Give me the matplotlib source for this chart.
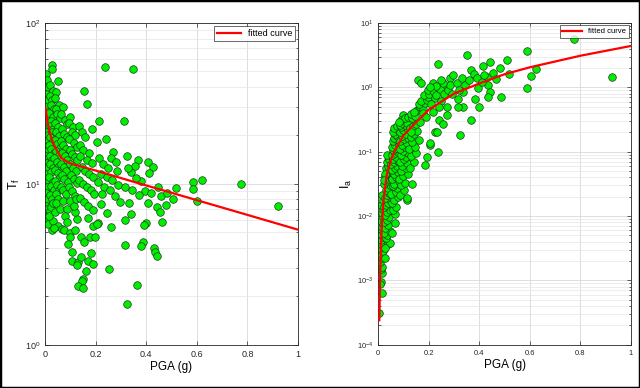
import matplotlib
matplotlib.use("Agg")
import matplotlib.pyplot as plt
from matplotlib.patches import Rectangle
from matplotlib.ticker import LogLocator, NullFormatter, FixedLocator

plt.rcParams['font.family'] = ['Liberation Sans', 'DejaVu Sans']
plt.rcParams['mathtext.fontset'] = 'custom'
plt.rcParams['mathtext.rm'] = 'Liberation Sans'
plt.rcParams['mathtext.it'] = 'Liberation Sans'

# ---------------- Left panel data: T_f vs PGA ----------------
left_pts = [
    (0.004,48),(0.009,44),(0.006,40),(0.003,36),(0.008,33),(0.004,30),(0.01,28),(0.005,26),(0.003,24),
    (0.008,22.5),(0.004,21),(0.01,20),(0.006,18.5),(0.003,17),(0.009,16),(0.005,15),(0.003,13.5),
    (0.008,12.5),(0.004,11.5),(0.01,10.5),(0.006,9.6),(0.003,8.8),(0.009,8.0),(0.005,7.3),(0.007,6.97),
    (0.004,6.2),(0.01,5.6),
    (0.026,54.8),(0.027,52),(0.02,41),(0.032,38),(0.018,35),(0.028,33),(0.022,31),(0.034,29),(0.017,27.5),
    (0.03,26),(0.024,24.5),(0.019,23),(0.033,22),(0.027,21),(0.021,19.5),(0.031,18.5),(0.016,17.5),
    (0.025,16.5),(0.035,15.5),(0.02,14.8),(0.029,14),(0.018,13.2),(0.033,12.5),(0.024,11.8),(0.016,11),
    (0.03,10.3),(0.022,9.7),(0.034,9.1),(0.019,8.5),(0.028,8),(0.02,6.81),(0.026,5.19),(0.033,5.9),
    (0.024,7.2),(0.031,7.6),(0.017,6.3),
    (0.05,43.6),(0.045,37),(0.038,34),(0.055,31),(0.042,29),(0.048,27),(0.058,25.5),(0.04,24),(0.052,22.5),
    (0.044,21),(0.057,19.8),(0.039,18.8),(0.049,17.7),(0.06,16.8),(0.043,16),(0.054,15.2),(0.037,14.4),
    (0.047,13.6),(0.056,12.9),(0.041,12.2),(0.05,11.6),(0.059,11),(0.038,10.4),(0.046,9.8),(0.055,9.2),
    (0.042,8.6),(0.051,8.1),(0.04,6.65),(0.053,5.5),(0.058,7.0),(0.045,7.6),(0.036,5.3),
    (0.07,30),(0.065,27),(0.078,25),(0.085,23.5),(0.068,22),(0.075,20.5),(0.088,19.5),(0.062,18.5),
    (0.072,17.5),(0.082,16.5),(0.066,15.6),(0.079,14.8),(0.087,14),(0.063,13.3),(0.074,12.7),(0.084,12),
    (0.069,11.3),(0.077,10.7),(0.089,10.2),(0.064,9.6),(0.073,9.1),(0.083,8.6),(0.066,5.25),(0.075,5.2),
    (0.087,7.0),(0.07,7.8),(0.08,6.3),(0.086,5.8),
    (0.1,26),(0.095,24),(0.11,22.5),(0.105,21),(0.12,20),(0.093,19),(0.115,18),(0.125,17),(0.1,16.2),
    (0.108,15.4),(0.118,14.7),(0.128,14),(0.097,13.3),(0.112,12.6),(0.122,12),(0.103,11.3),(0.116,10.7),
    (0.127,10.1),(0.094,9.5),(0.107,9),(0.119,8.4),(0.099,4.92),(0.099,4.7),(0.118,5.2),(0.125,6.04),
    (0.118,6.7),(0.099,7.8),(0.092,4.23),(0.105,3.75),(0.105,3.33),(0.129,3.25),(0.128,3.15),(0.113,7.3),
    (0.124,8.0),
    (0.155,37.9),(0.167,31.5),(0.135,23),(0.145,21),(0.16,19.5),(0.14,17.5),(0.15,16.2),(0.175,15.5),
    (0.138,14.8),(0.165,14),(0.185,13.5),(0.145,12.8),(0.158,12.1),(0.172,11.5),(0.19,11),(0.135,10.6),
    (0.15,10),(0.165,9.5),(0.18,9.2),(0.195,8.7),(0.14,8.2),(0.155,7.7),(0.17,7.3),(0.188,6.9),(0.142,4.7),
    (0.155,4.37),(0.168,6.13),(0.142,3.49),(0.181,3.7),(0.171,3.33),(0.191,3.18),(0.162,2.88),(0.149,2.56),
    (0.145,2.48),(0.132,2.31),(0.151,2.24),(0.178,4.7),(0.19,5.47),(0.198,4.65),(0.187,21.9),
    (0.237,53),(0.212,24.5),(0.241,19.1),(0.204,18.3),(0.27,15.8),(0.215,14.5),(0.23,13.2),(0.25,12.5),
    (0.26,14.5),(0.28,13.6),(0.22,11.5),(0.245,11),(0.265,10.5),(0.21,10.2),(0.235,9.6),(0.255,9.2),
    (0.29,9.8),(0.225,8.6),(0.275,8.4),(0.296,7.68),(0.211,5.69),(0.205,5.6),(0.26,5.42),(0.244,6.56),
    (0.252,2.96),(0.22,7.5),(0.285,12),
    (0.349,51.5),(0.311,24.6),(0.323,14.9),(0.369,14.1),(0.406,13.6),(0.428,12.8),(0.412,11.6),(0.378,10.4),
    (0.34,11.8),(0.355,13),(0.33,12.5),(0.36,10.8),(0.318,9.5),(0.345,9.2),(0.331,7.57),(0.338,6.49),
    (0.316,5.96),(0.318,4.17),(0.364,2.35),(0.323,1.79),(0.408,7.57),(0.441,7.15),(0.455,6.65),(0.464,5.77),
    (0.478,7.4),(0.398,5.69),(0.393,5.55),(0.389,4.33),(0.378,4.13),(0.432,3.97),(0.436,3.75),(0.441,3.58),
    (0.395,9.0),(0.42,8.8),(0.445,9.5),(0.46,8.4),(0.37,8.5),
    (0.518,9.4),(0.586,10.2),(0.586,9.3),(0.619,10.6),(0.505,8.06),(0.602,7.86),(0.775,10.0),(0.922,7.28),
    (0.483,8.8),
]
left_pga = [p[0] for p in left_pts]
left_tf = [p[1] for p in left_pts]

left_fit_pga = [0.002, 0.01, 0.02, 0.03, 0.046, 0.066, 0.1, 0.2, 0.35, 0.5, 0.75, 1.0]
left_fit_tf = [29.6, 24.0, 20.6, 18.2, 16.2, 14.4, 13.4, 12.1, 10.3, 8.8, 6.76, 5.19]

# ---------------- Right panel data: I_a vs PGA ----------------
right_pts = [
    (0.004,3.1e-4),(0.015,6.3e-4),(0.011,9.4e-4),(0.007,8.9e-4),(0.013,1.3e-3),(0.009,1.5e-3),(0.013,1.6e-3),
    (0.006,1.95e-3),(0.016,2.2e-3),(0.01,2.6e-3),(0.018,2.9e-3),(0.008,3.2e-3),(0.014,3.6e-3),(0.012,4.2e-3),
    (0.019,4.8e-3),(0.01,5.3e-3),(0.016,6.0e-3),(0.013,6.8e-3),(0.02,7.5e-3),(0.011,8.5e-3),(0.018,9.5e-3),
    (0.015,0.011),(0.02,0.013),(0.012,0.015),(0.017,0.018),(0.014,0.021),
    (0.026,2.2e-3),(0.04,3.7e-3),(0.046,3.8e-3),(0.025,3.2e-3),(0.03,4.5e-3),(0.035,5.0e-3),(0.022,5.5e-3),
    (0.046,5.9e-3),(0.028,6.5e-3),(0.038,7.2e-3),(0.024,8.0e-3),(0.033,8.8e-3),(0.042,9.6e-3),(0.027,0.0105),
    (0.036,0.0115),(0.045,0.0125),(0.023,0.014),(0.031,0.015),(0.04,0.016),(0.048,0.0175),(0.026,0.019),
    (0.034,0.021),(0.043,0.023),(0.029,0.025),(0.038,0.027),(0.046,0.03),(0.024,0.032),(0.032,0.035),
    (0.041,0.038),(0.028,0.042),(0.036,0.046),(0.044,0.05),(0.03,0.055),(0.039,0.06),(0.025,0.045),
    (0.047,0.065),(0.033,0.07),(0.042,0.078),(0.022,0.036),(0.049,0.085),(0.035,0.09),
    (0.053,5.4e-3),(0.066,7.9e-3),(0.066,0.0107),(0.058,0.0125),(0.072,0.014),(0.055,0.016),(0.063,0.018),
    (0.078,0.02),(0.052,0.022),(0.069,0.024),(0.075,0.027),(0.057,0.029),(0.064,0.032),(0.08,0.035),
    (0.054,0.038),(0.07,0.041),(0.061,0.045),(0.077,0.048),(0.056,0.052),(0.067,0.056),(0.074,0.06),
    (0.052,0.064),(0.063,0.068),(0.079,0.072),(0.058,0.077),(0.07,0.082),(0.055,0.088),(0.066,0.094),
    (0.076,0.1),(0.06,0.107),(0.072,0.114),(0.053,0.12),(0.065,0.128),(0.078,0.136),(0.058,0.145),
    (0.07,0.155),(0.062,0.165),(0.075,0.175),(0.068,0.19),(0.057,0.2),(0.08,0.21),(0.064,0.23),(0.073,0.25),
    (0.086,0.021),(0.112,0.018),(0.112,0.019),(0.1,0.025),(0.09,0.03),(0.105,0.033),(0.083,0.037),
    (0.096,0.042),(0.118,0.045),(0.088,0.05),(0.108,0.055),(0.093,0.06),(0.115,0.066),(0.085,0.07),
    (0.101,0.076),(0.11,0.082),(0.091,0.09),(0.119,0.096),(0.098,0.104),(0.084,0.11),(0.106,0.118),
    (0.094,0.126),(0.113,0.135),(0.087,0.145),(0.102,0.155),(0.117,0.166),(0.092,0.178),(0.108,0.19),
    (0.086,0.2),(0.099,0.215),(0.112,0.23),(0.089,0.245),(0.104,0.26),(0.086,0.26),(0.095,0.28),
    (0.112,0.276),(0.099,0.37),(0.09,0.31),(0.107,0.33),(0.117,0.35),(0.083,0.29),
    (0.132,0.032),(0.125,0.055),(0.14,0.07),(0.13,0.085),(0.15,0.095),(0.122,0.11),(0.145,0.12),(0.135,0.14),
    (0.16,0.15),(0.128,0.17),(0.142,0.19),(0.155,0.21),(0.124,0.23),(0.138,0.25),(0.15,0.27),(0.165,0.29),
    (0.132,0.33),(0.128,0.38),(0.145,0.36),(0.152,0.44),(0.165,0.5),(0.14,0.42),(0.175,0.46),(0.16,0.55),
    (0.185,0.58),(0.17,0.62),(0.191,0.64),(0.195,0.7),(0.18,0.75),(0.156,1.3),(0.169,1.18),(0.185,0.062),
    (0.191,0.083),(0.175,0.4),(0.19,0.35),(0.13,0.2),(0.2,0.8),(0.198,0.9),
    (0.205,0.127),(0.237,0.1),(0.205,0.135),(0.224,0.2),(0.231,0.2),(0.242,0.31),(0.257,0.27),(0.271,0.37),
    (0.271,0.49),(0.224,0.68),(0.264,1.0),(0.284,1.41),(0.297,1.55),(0.235,2.31),(0.215,1.18),(0.21,0.55),
    (0.22,0.85),(0.23,0.75),(0.245,0.95),(0.25,0.62),(0.26,0.8),(0.24,0.5),(0.275,0.9),(0.285,1.1),
    (0.215,0.42),(0.255,1.15),(0.29,0.8),(0.23,1.05),(0.205,1.0),(0.248,1.3),
    (0.31,1.18),(0.314,0.65),(0.336,0.86),(0.336,0.49),(0.314,0.49),(0.366,0.31),(0.323,0.18),(0.35,3.19),
    (0.367,1.86),(0.379,1.6),(0.395,0.97),(0.383,0.66),(0.4,0.49),(0.416,2.17),(0.429,1.46),(0.435,1.09),
    (0.442,0.86),(0.435,0.72),(0.442,2.51),(0.484,0.72),(0.482,2.02),(0.33,1.4),(0.345,1.1),(0.36,1.3),
    (0.39,1.4),(0.41,1.2),(0.42,1.55),(0.455,1.7),(0.465,1.35),(0.32,0.9),
    (0.508,2.66),(0.518,1.6),(0.587,0.97),(0.59,3.72),(0.603,1.5),(0.623,1.91),(0.774,5.64),(0.924,1.43),
]
right_pga = [p[0] for p in right_pts]
right_ia = [p[1] for p in right_pts]

right_fit_pga = [0.004, 0.007, 0.01, 0.013, 0.02, 0.033, 0.05, 0.066, 0.1, 0.139, 0.2, 0.3, 0.4, 0.5, 0.6, 0.8, 1.0]
right_fit_ia = [2.4e-4, 1.0e-3, 3.0e-3, 6.0e-3, 0.016, 0.043, 0.075, 0.106, 0.18, 0.26, 0.45, 0.8, 1.15, 1.6, 2.05, 3.1, 4.4]

xticks = [0, 0.2, 0.4, 0.6, 0.8, 1]
xticklabels = ['0', '0.2', '0.4', '0.6', '0.8', '1']

fig = plt.figure(figsize=(6.4, 3.88), dpi=100)
fig.patch.set_facecolor('white')
fig.patches.append(Rectangle((0, 0), 1, 1, transform=fig.transFigure, fill=False,
                             edgecolor='black', linewidth=2.5, zorder=10))

GREEN = '#00ee00'
def style_axis(ax, ylim, tick_fs, label_fs):
    ax.set_xlim(0, 1)
    ax.set_yscale('log')
    ax.set_ylim(*ylim)
    ax.xaxis.set_major_locator(FixedLocator(xticks))
    ax.set_xticklabels(xticklabels)
    ax.yaxis.set_major_locator(LogLocator(base=10, numticks=20))
    ax.yaxis.set_minor_locator(LogLocator(base=10, subs=range(2, 10), numticks=20))
    ax.yaxis.set_minor_formatter(NullFormatter())
    ax.grid(True, which='major', color='#d9d9d9', linewidth=0.6)
    ax.grid(True, which='minor', axis='y', color='#e6e6e6', linewidth=0.5)
    ax.set_axisbelow(True)
    ax.tick_params(which='both', direction='in', top=True, right=True, labelsize=tick_fs,
                   colors='#262626', width=0.5)
    ax.tick_params(which='major', length=3)
    ax.tick_params(which='minor', length=1.8)
    for s in ax.spines.values():
        s.set_color('#262626')
        s.set_linewidth(0.6)
    ax.set_xlabel('PGA (g)', fontsize=label_fs, labelpad=2)

ax1 = fig.add_axes([45/640, 1-344.7/388, 253/640, 321.7/388])
ax1.scatter(left_pga, left_tf, s=30, c=GREEN, edgecolors='#1a3a1a', linewidths=0.5, zorder=2)
ax1.plot(left_fit_pga, left_fit_tf, color='red', linewidth=1.6, label='fitted curve', zorder=3)
style_axis(ax1, (1, 100), 6.5, 8.5)
ax1.set_ylabel('$T_f$', fontsize=9, labelpad=2)
leg1 = ax1.legend(loc='upper right', fontsize=6.5, frameon=True, fancybox=False,
                  borderaxespad=0.3, handlelength=2.6, borderpad=0.35)
leg1.get_frame().set_edgecolor('#262626')
leg1.get_frame().set_linewidth(0.6)

ax2 = fig.add_axes([378.3/640, 1-344.7/388, 252.7/640, 321.7/388])
ax2.scatter(right_pga, right_ia, s=30, c=GREEN, edgecolors='#1a3a1a', linewidths=0.5, zorder=2)
ax2.plot(right_fit_pga, right_fit_ia, color='red', linewidth=1.6, label='fitted curve', zorder=3)
style_axis(ax2, (1e-4, 10), 5.5, 8.5)
ax2.set_ylabel('$I_a$', fontsize=9, labelpad=2)
leg2 = ax2.legend(loc='upper right', fontsize=5.5, frameon=True, fancybox=False,
                  borderaxespad=0.3, handlelength=2.6, borderpad=0.35)
leg2.get_frame().set_edgecolor('#262626')
leg2.get_frame().set_linewidth(0.6)

fig.savefig('out.png', dpi=100)
